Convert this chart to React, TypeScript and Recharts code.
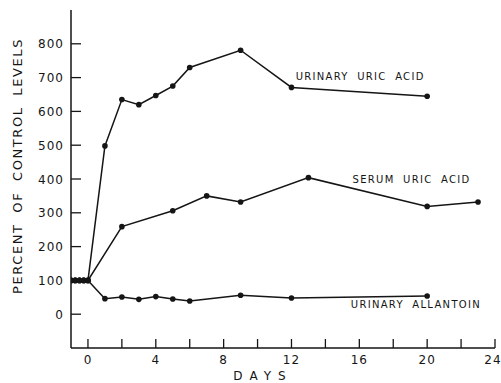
import React from 'react';
import { LineChart, Line, XAxis, YAxis, ReferenceDot } from 'recharts';

const urinaryUricDays = [-1, -0.75, -0.5, -0.25, 0, 1, 2, 3, 4, 5, 6, 9, 12, 20];
const urinaryUricValues = [100, 100, 100, 100, 100, 498, 635, 620, 647, 675, 730, 781, 671, 645];

const serumUricDays = [-1, -0.75, -0.5, -0.25, 0, 2, 5, 7, 9, 13, 20, 23];
const serumUricValues = [100, 100, 100, 100, 100, 259, 306, 350, 332, 404, 319, 332];

const allantoinDays = [-1, -0.75, -0.5, -0.25, 0, 1, 2, 3, 4, 5, 6, 9, 12, 20];
const allantoinValues = [100, 100, 100, 100, 100, 46, 51, 44, 52, 45, 39, 56, 48, 54];

const xTicks = [0, 2, 4, 6, 8, 10, 12, 14, 16, 18, 20, 22, 24];
const xLabelEvery = 4;
const yTicks = [0, 100, 200, 300, 400, 500, 600, 700, 800];

const seriesLabels = [
  { text: 'URINARY URIC ACID', day: 12.25, value: 705 },
  { text: 'SERUM URIC ACID', day: 15.6, value: 400 },
  { text: 'URINARY ALLANTOIN', day: 15.5, value: 30 },
];

const toData = (days: number[], values: number[]) => days.map((d, i) => ({ day: d, value: values[i] }));
const urinaryUric = toData(urinaryUricDays, urinaryUricValues);
const serumUric = toData(serumUricDays, serumUricValues);
const allantoin = toData(allantoinDays, allantoinValues);

const INK = '#151515';
const FONT = '"DejaVu Sans", "Liberation Sans", sans-serif';

const XTick = (props: any) => {
  const { x, y, payload, index, visibleTicksCount } = props;
  const v = payload.value;
  const isLast = index === visibleTicksCount - 1;
  return (
    <g>
      <line x1={x} y1={y} x2={x} y2={y - 9} stroke={INK} strokeWidth={1.3} />
      {v % xLabelEvery === 0 && (
        <text x={isLast ? x - 2 : x} y={y + 16} textAnchor="middle" fontFamily={FONT} fontSize={12} fill={INK} letterSpacing={1}>
          {v}
        </text>
      )}
    </g>
  );
};

const YTick = (props: any) => {
  const { x, y, payload } = props;
  return (
    <g>
      <line x1={x} y1={y} x2={x + 10} y2={y} stroke={INK} strokeWidth={1.3} />
      <text x={x - 7} y={y + 4.5} textAnchor="end" fontFamily={FONT} fontSize={12} fill={INK} letterSpacing={1}>
        {payload.value}
      </text>
    </g>
  );
};

const SeriesLabel = (text: string) => (props: any) => {
  const { cx, cy } = props;
  return (
    <text x={cx} y={cy + 4} textAnchor="start" fontFamily={FONT} fontSize={10} fill={INK} letterSpacing={1.3} wordSpacing={4}>
      {text}
    </text>
  );
};

export default function App() {
  return (
    <div style={{ position: 'absolute', left: 0, top: 0, background: '#fff' }}>
      <LineChart width={501} height={383} margin={{ top: 10, right: 6, bottom: 0, left: 0 }}>
        <XAxis
          dataKey="day"
          type="number"
          domain={[-1, 24]}
          ticks={xTicks}
          interval={0}
          allowDataOverflow
          height={35}
          tickSize={0}
          tickMargin={0}
          tickLine={false}
          axisLine={{ stroke: INK, strokeWidth: 1.5 }}
          tick={<XTick />}
          label={{
            content: (p: any) => {
              const vb = p.viewBox;
              return (
                <text x={vb.x + vb.width / 2 - 20} y={vb.y + 32} textAnchor="middle" fontFamily={FONT} fontSize={12} fill={INK} letterSpacing={7}>
                  DAYS
                </text>
              );
            },
          }}
        />
        <YAxis
          dataKey="value"
          type="number"
          domain={[-100, 900]}
          ticks={yTicks}
          interval={0}
          allowDataOverflow
          width={71}
          tickSize={0}
          tickMargin={0}
          tickLine={false}
          axisLine={{ stroke: INK, strokeWidth: 1.5 }}
          tick={<YTick />}
          label={{
            content: (p: any) => {
              const vb = p.viewBox;
              const cx = vb.x + 17;
              const cy = vb.y + vb.height / 2 - 13;
              return (
                <text
                  x={cx}
                  y={cy}
                  transform={`rotate(-90 ${cx} ${cy})`}
                  textAnchor="middle"
                  dominantBaseline="central"
                  fontFamily={FONT}
                  fontSize={13}
                  fill={INK}
                  letterSpacing={1.6}
                  wordSpacing={5}
                >
                  PERCENT OF CONTROL LEVELS
                </text>
              );
            },
          }}
        />
        <Line data={urinaryUric} dataKey="value" stroke={INK} strokeWidth={1.5} dot={{ r: 2.8, fill: INK, stroke: INK, strokeWidth: 0 }} isAnimationActive={false} />
        <Line data={serumUric} dataKey="value" stroke={INK} strokeWidth={1.5} dot={{ r: 2.8, fill: INK, stroke: INK, strokeWidth: 0 }} isAnimationActive={false} />
        <Line data={allantoin} dataKey="value" stroke={INK} strokeWidth={1.5} dot={{ r: 2.8, fill: INK, stroke: INK, strokeWidth: 0 }} isAnimationActive={false} />
        {seriesLabels.map((l) => (
          <ReferenceDot key={l.text} x={l.day} y={l.value} r={0} shape={SeriesLabel(l.text)} />
        ))}
      </LineChart>
    </div>
  );
}
